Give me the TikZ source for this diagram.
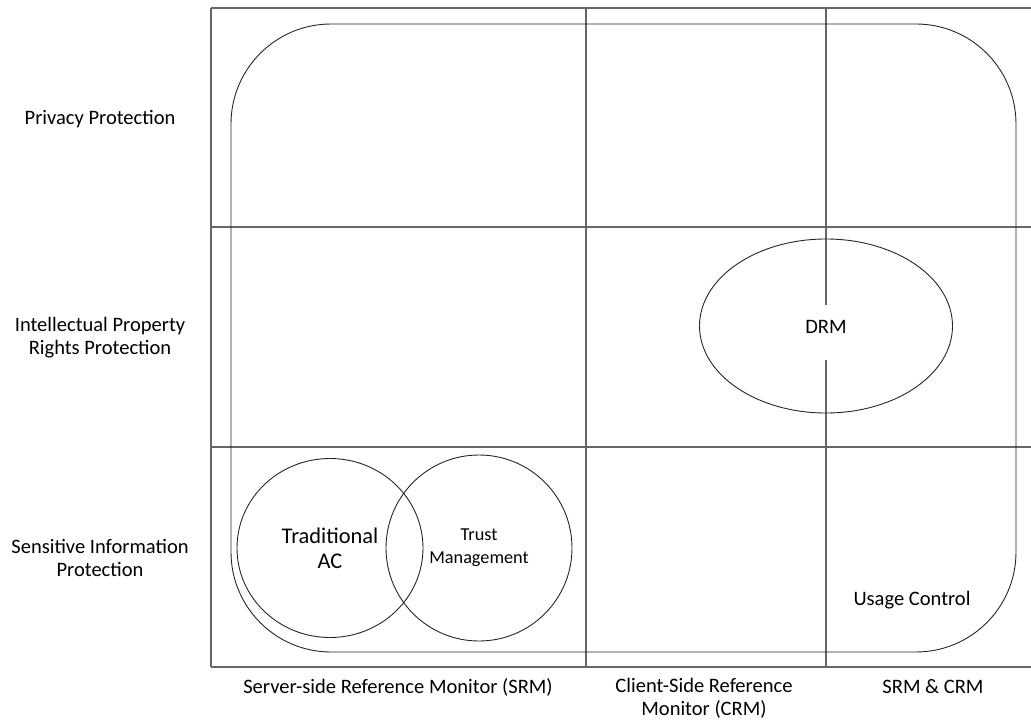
\documentclass[tikz,border=0pt]{standalone}
\usepackage{fontspec}
\setmainfont{Carlito}
\usetikzlibrary{shapes.geometric}
\tikzset{
  gridline/.style={draw=black!60, line width=1.7bp},
  shapeline/.style={draw=black!85, line width=0.9bp},
  lbl/.style={align=center, inner sep=0pt, font=\fontsize{20.6}{23}\selectfont},
}
\begin{document}
\begin{tikzpicture}[x=1bp, y=-1bp]
\useasboundingbox (0,0) rectangle (1031,721);

% grid corners and column / row boundaries
\coordinate (tl) at (211,8);
\coordinate (tr) at (1031,8);
\coordinate (r1l) at (211,227);
\coordinate (r1r) at (1031,227);
\coordinate (r2l) at (211,447);
\coordinate (r2r) at (1031,447);
\coordinate (bl) at (211,667);
\coordinate (br) at (1031,667);
\coordinate (c1t) at (586,8);
\coordinate (c1b) at (586,667);
\coordinate (c2t) at (826,8);
\coordinate (c2b) at (826,667);

\draw[gridline] (tl) -- (tr);
\draw[gridline] (r1l) -- (r1r);
\draw[gridline] (r2l) -- (r2r);
\draw[gridline] (bl) -- (br);
\draw[gridline] (tl) -- (bl);
\draw[gridline] (c1t) -- (c1b);
\draw[gridline] (c2t) -- (c2b);

% usage control envelope
\draw[shapeline, rounded corners=100bp] (231,24) rectangle (1016,652);
\node[lbl] (uc) at (912,600) {Usage Control};

% DRM
\node[shapeline, ellipse, minimum width=253bp, minimum height=174bp] (drmshape) at (826,326) {};
\node[fill=white, minimum height=55bp, minimum width=8bp, inner sep=0pt] (drmgap) at (826,332) {};
\node[lbl] (drm) at (826,327) {DRM};

% access control circles
\node[shapeline, ellipse, minimum width=186bp, minimum height=179bp] (tac) at (330,548) {};
\node[shapeline, circle, minimum size=186bp] (tm) at (479,548) {};
\node[align=center, inner sep=0pt, font=\fontsize{22.5}{25}\selectfont] (tactext) at (330,548) {Traditional\\AC};
\node[align=center, inner sep=0pt, font=\fontsize{18.3}{23}\selectfont] (tmtext) at (479,548) {Trust\\Management};

% row labels
\node[lbl] (rowa) at (100,119) {Privacy Protection};
\node[lbl] (rowb) at (100,338) {Intellectual Property\\Rights Protection};
\node[lbl] (rowc) at (100,558) {Sensitive Information\\Protection};

% column labels
\node[lbl] (cola) at (398,687) {Server-side Reference Monitor (SRM)};
\node[lbl] (colb) at (704,698) {Client-Side Reference\\Monitor (CRM)};
\node[lbl] (colc) at (933,687) {SRM \& CRM};
\end{tikzpicture}
\end{document}
